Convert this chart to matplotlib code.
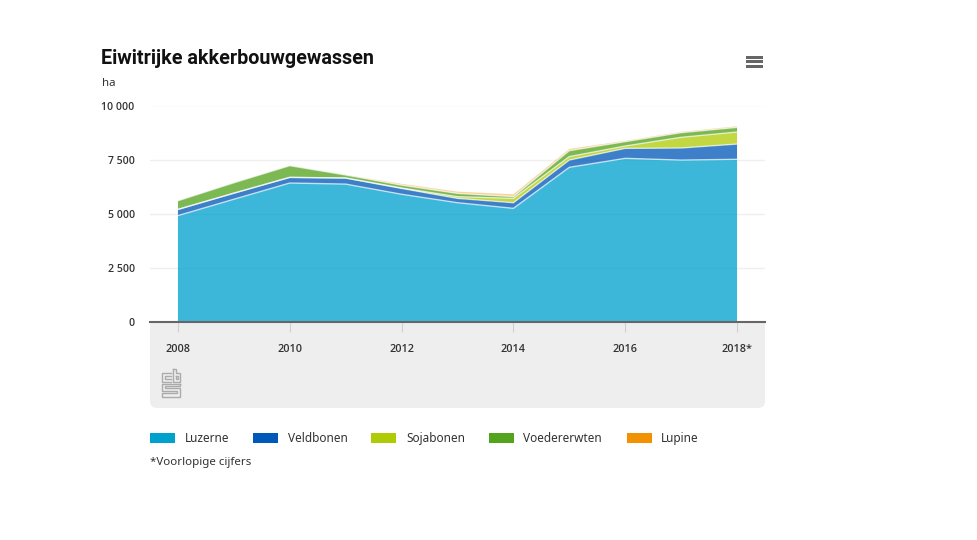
import numpy as np
import matplotlib
matplotlib.use('Agg')
import matplotlib.pyplot as plt
from matplotlib.patches import FancyBboxPatch, Rectangle

W, H = 978, 540

years = [2008, 2009, 2010, 2011, 2012, 2013, 2014, 2015, 2016, 2017, 2018]
luzerne = [4915, 5670, 6420, 6370, 5900, 5510, 5250, 7145, 7560, 7480, 7515]
veldbonen = [285, 280, 260, 280, 270, 200, 260, 335, 460, 557, 705]
sojabonen = [0, 0, 0, 0, 20, 80, 200, 160, 110, 493, 555]
voedererwten = [400, 480, 540, 140, 130, 150, 80, 275, 200, 215, 215]
lupine = [0, 0, 0, 10, 60, 80, 110, 80, 40, 40, 50]

names = ["Luzerne", "Veldbonen", "Sojabonen", "Voedererwten", "Lupine"]
colors = ["#00A1CD", "#0058B8", "#AFCB05", "#53A31D", "#F39200"]
y_ticks = [0, 2500, 5000, 7500, 10000]
y_labels = ["0", "2 500", "5 000", "7 500", "10 000"]
x_ticks = [2008, 2010, 2012, 2014, 2016, 2018]
x_labels = ["2008", "2010", "2012", "2014", "2016", "2018*"]

plt.rcParams['font.family'] = ['Noto Sans', 'DejaVu Sans']
txt = '#333333'

fig = plt.figure(figsize=(W / 100, H / 100), dpi=100, facecolor='white')

# overlay in pixel coords for panel, logo, legend
bg = fig.add_axes([0, 0, 1, 1])
bg.set_xlim(0, W)
bg.set_ylim(H, 0)
bg.axis('off')

bg.add_patch(FancyBboxPatch((154, 326), 607, 78, boxstyle='round,pad=4,rounding_size=7',
                            fc='#EEEEEE', ec='none'))
bg.add_patch(Rectangle((150, 322), 615, 12, fc='#EEEEEE', ec='none'))

# plot area: 2007.5-2018.5, y 0 at px 322, 10000 at px 105.5
ax = fig.add_axes([150 / W, 1 - 322 / H, 615 / W, 216.5 / H])
ax.patch.set_alpha(0)
ax.set_xlim(2007.5, 2018.5)
ax.set_ylim(0, 10000)

series = [luzerne, veldbonen, sojabonen, voedererwten, lupine]
tops = np.cumsum(series, axis=0)
polys = ax.stackplot(years, *series, colors=colors, alpha=0.76, lw=0, zorder=2)
polys[4].set_alpha(0.4)
for i in range(4):
    ax.plot(years, tops[i], color='white', lw=1, alpha=0.65, zorder=3)

ax.set_yticks(y_ticks, y_labels)
ax.set_xticks(x_ticks, x_labels)
ax.grid(axis='y', color='#EFEFEF', lw=1, zorder=0)
ax.set_axisbelow(True)
for s in ['top', 'left', 'right']:
    ax.spines[s].set_visible(False)
ax.spines['bottom'].set_color('#666666')
ax.spines['bottom'].set_linewidth(1.5)
ax.spines['bottom'].set_zorder(5)
ax.tick_params(axis='y', length=0, labelsize=7.6, labelcolor=txt, pad=11)
ax.tick_params(axis='x', length=7, width=0.8, color='#D0D0D0', labelsize=7.8,
               labelcolor=txt, pad=8.5)
for lab in ax.get_xticklabels() + ax.get_yticklabels():
    lab.set_family(['Open Sans', 'DejaVu Sans'])
    lab.set_fontweight('semibold')

bg.text(101, 58, "Eiwitrijke akkerbouwgewassen", fontsize=14.2, fontweight='bold',
        family=['Roboto', 'DejaVu Sans'], color='#111111', va='center', ha='left')
bg.text(102, 83, "ha", fontsize=8.2, color=txt, va='center', ha='left')

# hamburger menu
for y in [55.5, 60, 64.5]:
    bg.add_patch(Rectangle((745.5, y), 17, 3, fc='#666666', ec='none'))

# cbs logo
logo = [
    [(171, 372.5), (162, 372.5), (162, 381.5), (171, 381.5)],
    [(171, 375.5), (165, 375.5), (165, 378.5), (171, 378.5)],
    [(172.5, 368.5), (172.5, 381.5), (180, 381.5), (180, 372.5), (175.5, 372.5), (175.5, 368.5), (172.5, 368.5)],
    [(175.5, 375.5), (177.5, 375.5), (177.5, 378.5), (175.5, 378.5), (175.5, 375.5)],
    [(180, 383.5), (162, 383.5), (162, 390.5), (177, 390.5), (177, 393), (162, 393),
     (162, 396.5), (180, 396.5), (180, 387.5), (165, 387.5), (165, 386), (180, 386), (180, 383.5)],
]
for pts in logo:
    xs, ys = zip(*pts)
    bg.plot(xs, ys, color='#ABABAB', lw=1.0, solid_joinstyle='miter')

# legend
swatch_x = [150, 253, 371, 489, 627]
label_x = [185, 288, 406, 523, 661]
for sx, lx, name, c in zip(swatch_x, label_x, names, colors):
    bg.add_patch(Rectangle((sx, 433), 25, 10, fc=c, ec='none'))
    bg.text(lx, 438.5, name, fontsize=8.5, color=txt, va='center', ha='left')

bg.text(150, 462.5, "*Voorlopige cijfers", fontsize=8.3, color=txt, va='center', ha='left')

fig.savefig('out.png', dpi=100, facecolor='white')
